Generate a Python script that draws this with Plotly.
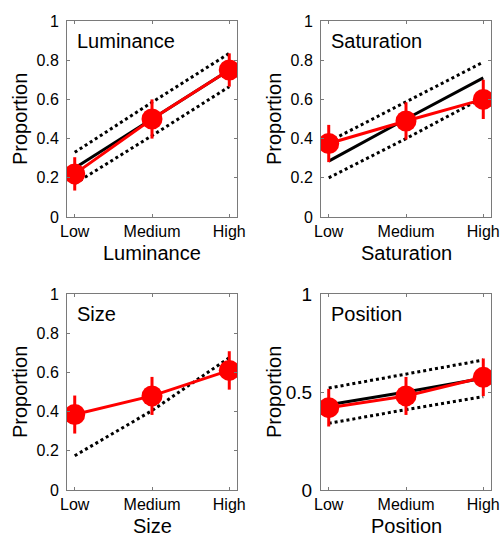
import plotly.graph_objects as go

categories = ["Low", "Medium", "High"]
xpos = [1, 2, 3]

panel_titles = ["Luminance", "Saturation", "Size", "Position"]

# Observed proportions (red) and error half-widths
obs = {
    "Luminance": [0.22, 0.50, 0.75],
    "Saturation": [0.375, 0.49, 0.60],
    "Size": [0.385, 0.48, 0.61],
    "Position": [0.42, 0.48, 0.575],
}
obs_err = {
    "Luminance": [0.085, 0.10, 0.085],
    "Saturation": [0.095, 0.095, 0.10],
    "Size": [0.097, 0.097, 0.098],
    "Position": [0.096, 0.097, 0.096],
}
# Predicted (black solid) and bounds (black dotted)
pred = {
    "Luminance": [0.25, 0.50, 0.75],
    "Saturation": [0.285, 0.50, 0.71],
    "Size": None,
    "Position": [0.435, 0.50, 0.57],
}
upper = {
    "Luminance": [0.33, 0.585, 0.835],
    "Saturation": [0.385, 0.587, 0.79],
    "Size": [0.175, 0.405, 0.675],
    "Position": [0.52, 0.59, 0.663],
}
lower = {
    "Luminance": [0.17, 0.415, 0.665],
    "Saturation": [0.20, 0.40, 0.61],
    "Size": None,
    "Position": [0.34, 0.41, 0.476],
}
yticks = {
    "Luminance": [0, 0.2, 0.4, 0.6, 0.8, 1],
    "Saturation": [0, 0.2, 0.4, 0.6, 0.8, 1],
    "Size": [0, 0.2, 0.4, 0.6, 0.8, 1],
    "Position": [0, 0.5, 1],
}

OFF = 0
W, H = 500, 543
boxes = [  # left, right, top, bottom in screen px
    (67, 237, 21, 217),
    (321, 491, 21, 217),
    (67, 237, 294, 490),
    (321, 491, 294, 490),
]

def fx(X):
    return (X - OFF) / W

def fy(Y):
    return 1 - (Y - OFF) / H

FONT = "Liberation Sans, Arial, Helvetica, sans-serif"
fig = go.Figure()
layout = dict(
    width=W, height=H, margin=dict(l=0, r=0, t=0, b=0, autoexpand=False),
    paper_bgcolor="white", plot_bgcolor="white", showlegend=False,
    font=dict(family=FONT, color="black", size=16),
)
annotations = []
frame_col = "#7a7a7a"

for i, name in enumerate(panel_titles):
    n = i + 1
    xa = "x" if n == 1 else f"x{n}"
    ya = "y" if n == 1 else f"y{n}"
    l, r, t, b = boxes[i]
    layout["xaxis" if n == 1 else f"xaxis{n}"] = dict(
        domain=[fx(l), fx(r)], anchor=ya, range=[0.9, 3.1], automargin=False,
        tickvals=xpos, ticktext=categories, ticks="inside", ticklen=3,
        tickcolor=frame_col, showline=True, linecolor=frame_col, linewidth=1,
        mirror="ticks", showgrid=False, zeroline=False, ticklabeloverflow="allow",
        tickfont=dict(size=16, family=FONT),
    )
    layout["yaxis" if n == 1 else f"yaxis{n}"] = dict(
        domain=[fy(b), fy(t)], anchor=xa, range=[0, 1], automargin=False,
        tickvals=yticks[name], ticks="inside", ticklen=3,
        tickcolor=frame_col, showline=True, linecolor=frame_col, linewidth=1,
        mirror="ticks", showgrid=False, zeroline=False, ticklabeloverflow="allow",
        tickfont=dict(size=16 if name != "Position" else 19, family=FONT),
        ticklabelstandoff=4,
    )
    for bound in (upper[name], lower[name]):
        if bound is not None:
            fig.add_trace(go.Scatter(x=xpos, y=bound, mode="lines", xaxis=xa, yaxis=ya,
                                     line=dict(color="black", width=3, dash="3px,3px")))
    if pred[name] is not None:
        fig.add_trace(go.Scatter(x=xpos, y=pred[name], mode="lines", xaxis=xa, yaxis=ya,
                                 line=dict(color="black", width=3)))
    fig.add_trace(go.Scatter(
        x=xpos, y=obs[name], mode="lines+markers", xaxis=xa, yaxis=ya,
        line=dict(color="red", width=3),
        marker=dict(color="red", size=21),
        error_y=dict(type="data", array=obs_err[name], color="red", thickness=3, width=0),
    ))
    # inset label
    annotations.append(dict(text=name, x=0.047, y=1 - 20 / (b - t),
                            xref=f"{xa} domain", yref=f"{ya} domain", xanchor="left", yanchor="middle",
                            showarrow=False, font=dict(size=20, family=FONT)))
    # x title
    annotations.append(dict(text=name, x=fx((l + r) / 2), y=fy(b + 36),
                            xref="paper", yref="paper", xanchor="center", yanchor="middle",
                            showarrow=False, font=dict(size=20, family=FONT)))
    # y title
    annotations.append(dict(text="Proportion", x=fx(l - 47), y=fy((t + b) / 2),
                            xref="paper", yref="paper", xanchor="center", yanchor="middle",
                            textangle=-90, showarrow=False, font=dict(size=20, family=FONT)))

layout["annotations"] = annotations
fig.update_layout(**layout)
fig.write_html(
    "out.html",
    config={"displayModeBar": False},
    post_script="document.body.style.margin='0';document.body.style.overflow='hidden';",
)
